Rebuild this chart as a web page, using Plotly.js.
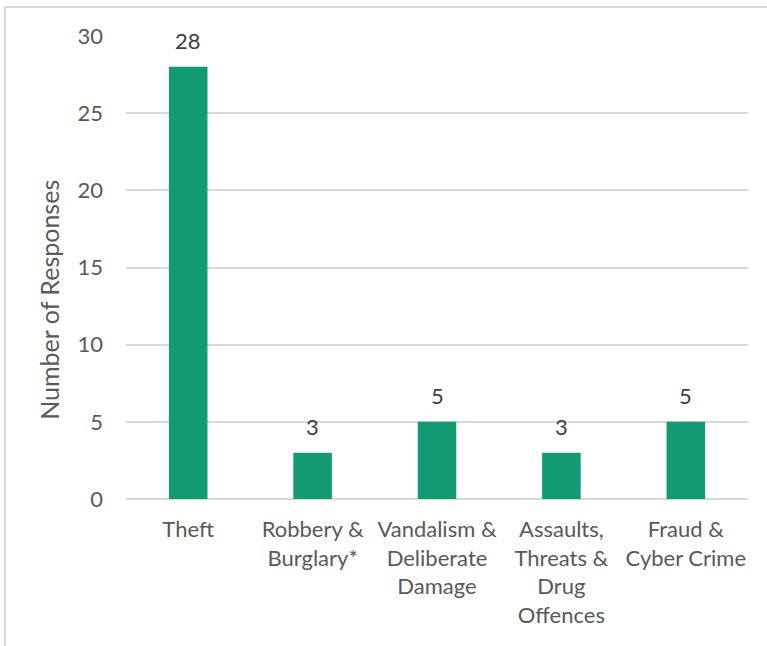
<!DOCTYPE html>
<html>
<head>
<meta charset="utf-8">
<script src="https://cdn.plot.ly/plotly-3.0.1.min.js"></script>
<style>
html,body{margin:0;padding:0;background:#fff;}
#wrap{position:relative;width:767px;height:646px;overflow:hidden;}
#chart{position:absolute;left:0;top:0;width:767px;height:646px;}
#frame{position:absolute;left:4px;top:6px;width:900px;height:900px;border-left:2px solid #d9d9d9;border-top:2px solid #d9d9d9;pointer-events:none;}
</style>
</head>
<body>
<div id="wrap"><div id="chart"></div><div id="frame"></div></div>
<script>
const categories = ["Theft", "Robbery &<br>Burglary*", "Vandalism &<br>Deliberate<br>Damage", "Assaults,<br>Threats &<br>Drug<br>Offences", "Fraud &<br>Cyber Crime"];
const values = [28, 3, 5, 3, 5];
const yTicks = [0, 5, 10, 15, 20, 25, 30];
const yTitle = "Number of Responses";

const FONT = "Lato, 'Open Sans', sans-serif";

const trace = {
  type: "bar",
  x: categories,
  y: values,
  marker: {color: "#129B73", line: {width: 0}},
  hoverinfo: "none"
};

const annotations = categories.map((c, i) => ({
  x: c, y: values[i], xref: "x", yref: "y",
  text: String(values[i]), showarrow: false,
  yanchor: "bottom", yshift: 11,
  font: {family: FONT, size: 22, color: "#404040"}
}));

annotations.push({
  xref: "paper", yref: "paper", x: -0.124, y: 0.43,
  xanchor: "center", yanchor: "middle", textangle: -90,
  text: yTitle, showarrow: false,
  font: {family: FONT, size: 25, color: "#595959"}
});

const layout = {
  width: 767, height: 646,
  margin: {l: 126, r: 19, t: 36, b: 147},
  paper_bgcolor: "#ffffff", plot_bgcolor: "#ffffff",
  showlegend: false,
  bargap: 0.69,
  font: {family: FONT, color: "#595959", size: 22},
  xaxis: {
    type: "category",
    tickfont: {family: FONT, size: 22, color: "#595959"},
    showgrid: false, zeroline: false, showline: false,
    ticks: "", ticklabelstandoff: 15,
    automargin: false, fixedrange: true
  },
  yaxis: {
    range: [0, 30],
    tickvals: yTicks,
    tickfont: {family: FONT, size: 22, color: "#595959"},
    showgrid: true, gridcolor: "#d9d9d9", gridwidth: 2,
    zeroline: true, zerolinecolor: "#d9d9d9", zerolinewidth: 2,
    showline: false, ticks: "", ticklabelstandoff: 22,
    automargin: false, fixedrange: true
  },
  annotations: annotations
};

Plotly.newPlot("chart", [trace], layout, {staticPlot: true, displayModeBar: false});
</script>
</body>
</html>
